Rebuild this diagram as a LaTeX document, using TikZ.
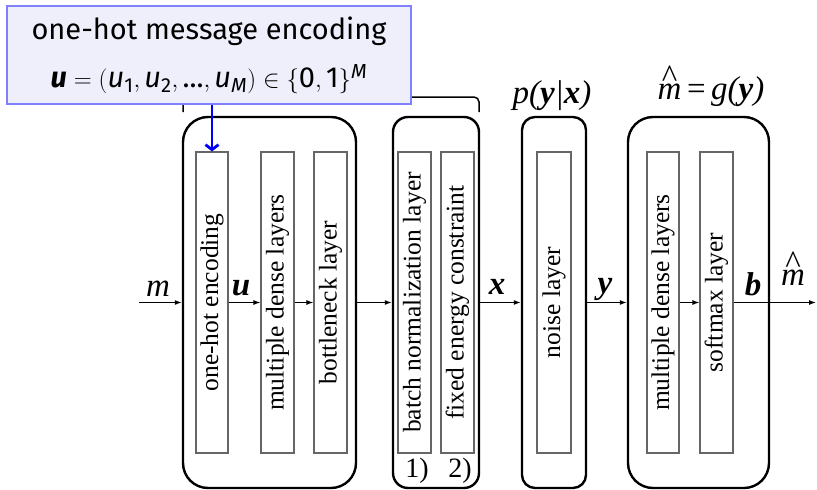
\documentclass[tikz,border=0pt]{standalone}
\usepackage{amsmath}
\usepackage{fontspec}
\newfontfamily\tnr{Liberation Serif}
\newfontfamily\fira{Fira Sans}
\usetikzlibrary{arrows.meta}
\newcommand\mhatx{\ooalign{\textit{m}\cr\hidewidth\raisebox{0.38em}{\textasciicircum}\hidewidth\cr}}
\begin{document}
\begin{tikzpicture}[x=1pt,y=-1pt,
  outer/.style={draw, line width=2.4pt, rounded corners=#1, minimum height=371pt, inner sep=0pt},
  inner/.style={draw=black!60, line width=1.1pt, minimum height=301pt, minimum width=#1, inner sep=0pt,
     font=\tnr\fontsize{25.5}{30}\selectfont},
  arr/.style={-{Latex[length=7pt,width=5pt]}, line width=1.2pt},
  lab/.style={font=\tnr\fontsize{33}{36}\selectfont, inner sep=0pt},
  small/.style={font=\tnr\fontsize{28}{30}\selectfont, inner sep=0pt}
]
\useasboundingbox (0,0) rectangle (817,490);
% bracket
\draw[line width=1.5pt, rounded corners=5pt] (183,112) -- (183,97) -- (479,97) -- (479,112);
% outer boxes
\node[outer=25pt, minimum width=173pt] (enc) at (269.5,302.5) {};
\node[outer=15pt, minimum width=86pt] (nrm) at (436,302.5) {};
\node[outer=13pt, minimum width=64pt] (chn) at (554,302.5) {};
\node[outer=25pt, minimum width=141pt] (dec) at (698.5,302.5) {};
% inner boxes
\node[inner=32pt] (oh) at (212,302.5) {\rotatebox{90}{one-hot encoding}};
\node[inner=33pt] (d1) at (277.5,302.5) {\rotatebox{90}{multiple dense layers}};
\node[inner=33pt] (bn) at (330.5,302.5) {\rotatebox{90}{bottleneck layer}};
\node[inner=33pt] (bt) at (414.5,302.5) {\rotatebox{90}{batch normalization layer}};
\node[inner=33pt] (fe) at (457.5,302.5) {\rotatebox{90}{fixed energy constraint}};
\node[inner=34pt] (nl) at (554,302.5) {\rotatebox{90}{noise layer}};
\node[inner=32pt] (d2) at (663,302.5) {\rotatebox{90}{multiple dense layers}};
\node[inner=33pt] (sm) at (716.5,302.5) {\rotatebox{90}{softmax layer}};
% numbers
\node[small] (n1) at (417,471) {1)};
\node[small] (n2) at (460,471) {2)};
% connectors
\coordinate (min) at (139,302.5);
\coordinate (mout) at (816,302.5);
\draw[arr] (min) -- (enc.west);
\draw[arr] (oh.east) -- (d1.west);
\draw[arr] (d1.east) -- (bn.west);
\draw[arr] (enc.east) -- (nrm.west);
\draw[arr] (nrm.east) -- (chn.west);
\draw[arr] (chn.east) -- (dec.west);
\draw[arr] (d2.east) -- (sm.west);
\draw[arr] (sm.east) -- (mout);
% labels
\node[lab] (lm) at (158,289) {\textit{m}};
\node[lab] (lu) at (241,288) {\textbf{\textit{u}}};
\node[lab] (lx) at (497,287) {\textbf{\textit{x}}};
\node[lab] (ly) at (605,289) {\textbf{\textit{y}}};
\node[lab] (lb) at (753,284) {\textbf{\textit{b}}};
\node[lab] (lmh) at (793,278) {\mhatx};
\node[lab] (lp) at (552,96) {\textit{p(\textbf{y}|\textbf{x})}};
\node[lab] (lg) at (711,92) {\mhatx\,=\,\textit{g(\textbf{y})}};
% callout
\node[draw={rgb,255:red,128;green,128;blue,255}, fill={rgb,255:red,239;green,239;blue,251}, line width=1.2pt,
  minimum width=404pt, minimum height=98pt, inner sep=0pt, align=center,
  font=\fira\fontsize{29}{48}\selectfont] (call) at (209,55)
  {one-hot message encoding\\
   $\textbf{\itshape u} = (\text{\itshape u}_{\text{1}}, \text{\itshape u}_{\text{2}}, \text{...}, \text{\itshape u}_{\text{\itshape M}}) \in \{\text{0}, \text{1}\}^{\text{\itshape M}}$};
\draw[blue, line width=2.8pt, -{Straight Barb[length=5pt,width=13pt]}] (call.south -| oh.north) -- (oh.north);
\end{tikzpicture}
\end{document}
